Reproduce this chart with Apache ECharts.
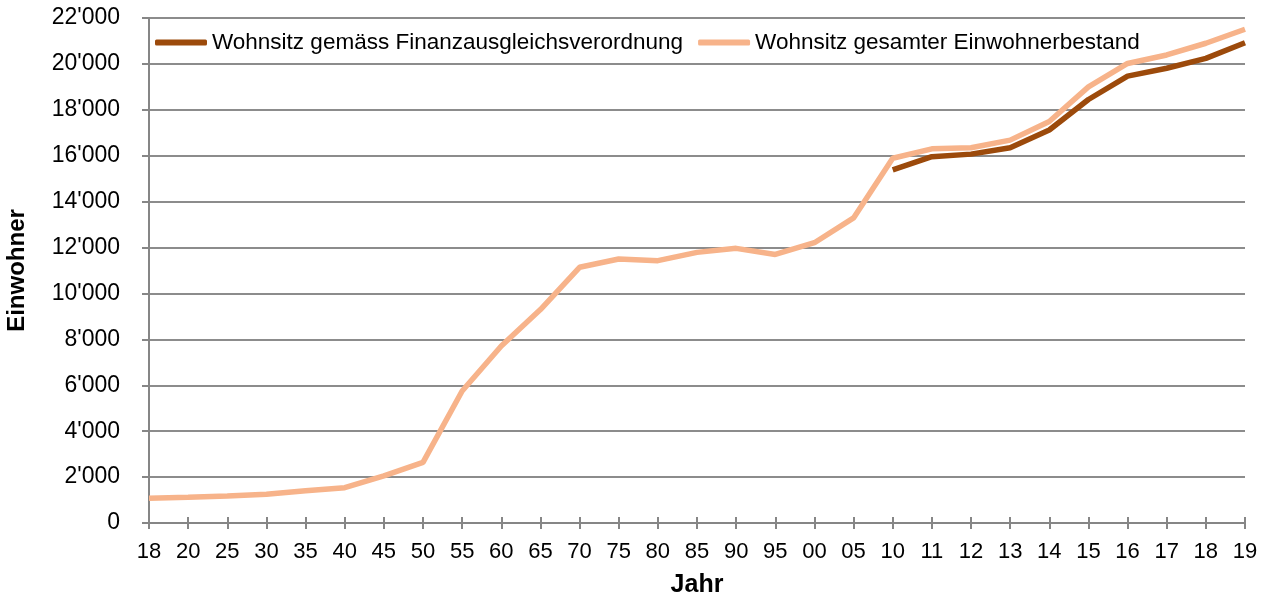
<!DOCTYPE html>
<html>
<head>
<meta charset="utf-8">
<script src="https://cdn.jsdelivr.net/npm/echarts@6/dist/echarts.min.js"></script>
<style>
html,body{margin:0;padding:0;background:#fff;}
#chart{width:1265px;height:599px;}
</style>
</head>
<body>
<div id="chart"></div>
<script>
var categories = ['18','20','25','30','35','40','45','50','55','60','65','70','75','80','85','90','95','00','05','10','11','12','13','14','15','16','17','18','19'];
var seriesNames = ['Wohnsitz gemäss Finanzausgleichsverordnung', 'Wohnsitz gesamter Einwohnerbestand'];
var finanzausgleich = [null,null,null,null,null,null,null,null,null,null,null,null,null,null,null,null,null,null,null,
  15380,15960,16070,16350,17120,18450,19470,19810,20240,20920];
var gesamt = [1080,1120,1180,1250,1400,1540,2050,2640,5750,7710,9300,11140,11500,11430,11790,11965,11700,12210,13290,
  15890,16300,16350,16680,17490,19000,20020,20390,20900,21510];
var yTicks = { min: 0, max: 22000, interval: 2000 };

var FONT = '"Liberation Sans", Arial, sans-serif';
var chart = echarts.init(document.getElementById('chart'));
function fmt(v){
  var s = String(Math.round(v));
  return s.replace(/\B(?=(\d{3})+(?!\d))/g, "'");
}
chart.setOption({
  animation: false,
  backgroundColor: '#ffffff',
  grid: { left: 149, right: 20, top: 18, bottom: 76, containLabel: false, outerBoundsMode: 'none' },
  legend: {
    left: 155, top: 31, padding: 0,
    icon: 'roundRect',
    itemWidth: 52, itemHeight: 6, itemGap: 15,
    textStyle: { fontFamily: FONT, fontSize: 22.5, color: '#000' },
    data: seriesNames
  },
  xAxis: [{
    type: 'category', data: categories, boundaryGap: false,
    axisLine: { lineStyle: { color: '#868686', width: 2 } },
    axisTick: { show: true, alignWithLabel: true, length: 6, lineStyle: { color: '#868686', width: 2 } },
    axisLabel: { fontFamily: FONT, fontSize: 22, color: '#000', margin: 18, interval: 0 },
    name: 'Jahr', nameLocation: 'middle', nameGap: 50,
    nameTextStyle: { fontFamily: FONT, fontSize: 25, fontWeight: 'bold', color: '#000' }
  }, {
    type: 'category', data: categories, boundaryGap: false, position: 'bottom',
    axisLine: { show: false },
    axisTick: { show: true, inside: true, length: 6, lineStyle: { color: '#868686', width: 2 } },
    axisLabel: { show: false }, splitLine: { show: false }
  }],
  yAxis: {
    type: 'value', min: yTicks.min, max: yTicks.max, interval: yTicks.interval,
    axisLine: { show: true, lineStyle: { color: '#868686', width: 2 } },
    axisTick: { show: true, length: 7, lineStyle: { color: '#868686', width: 2 } },
    splitLine: { show: true, lineStyle: { color: '#8c8c8c', width: 2 } },
    axisLabel: { fontFamily: FONT, fontSize: 23, color: '#000', margin: 29, formatter: fmt },
    name: 'Einwohner', nameLocation: 'middle', nameGap: 120,
    nameTextStyle: { fontFamily: FONT, fontSize: 24, fontWeight: 'bold', color: '#000' }
  },
  series: [{
    name: seriesNames[0], type: 'line', data: finanzausgleich, xAxisIndex: 0,
    symbol: 'none', connectNulls: false,
    lineStyle: { color: '#9C4A0B', width: 5.5 }, itemStyle: { color: '#9C4A0B' }, z: 3
  }, {
    name: seriesNames[1], type: 'line', data: gesamt, xAxisIndex: 0,
    symbol: 'none',
    lineStyle: { color: '#F7B38A', width: 5.5 }, itemStyle: { color: '#F7B38A' }, z: 2
  }]
});
</script>
</body>
</html>
